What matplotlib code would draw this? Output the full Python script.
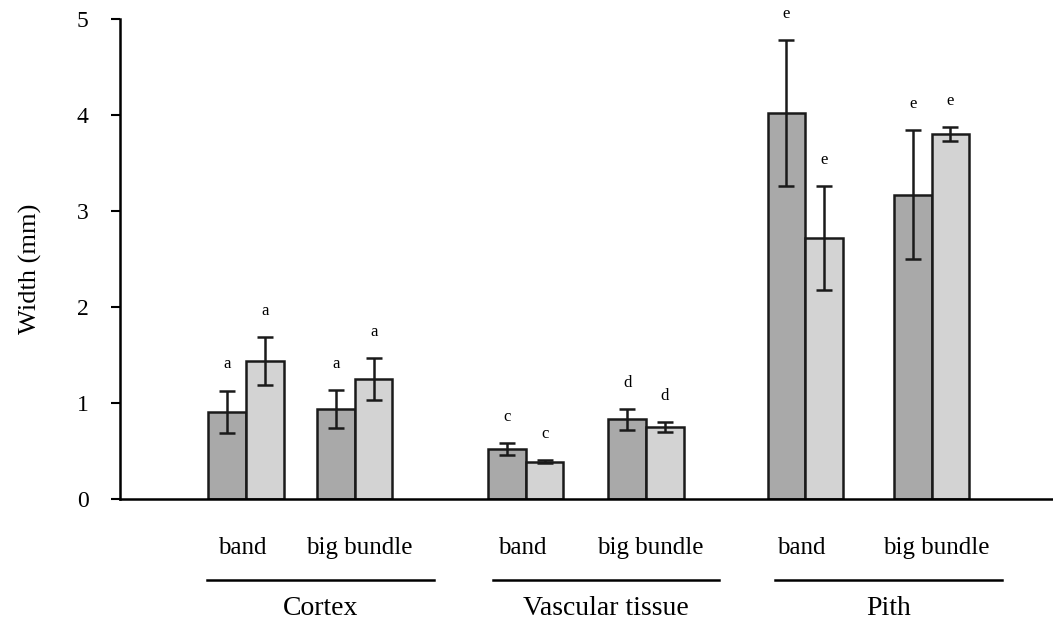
import numpy as np
import matplotlib.pyplot as plt
from matplotlib.lines import Line2D

# data
groups = ['Cortex', 'Vascular tissue', 'Pith']
subgroups = ['band', 'big bundle']
dark_vals = [0.91, 0.94, 0.52, 0.83, 4.02, 3.17]
dark_err = [0.22, 0.20, 0.06, 0.11, 0.76, 0.67]
light_vals = [1.44, 1.25, 0.39, 0.75, 2.72, 3.80]
light_err = [0.25, 0.22, 0.02, 0.05, 0.54, 0.07]
dark_letters = ['a', 'a', 'c', 'd', 'e', 'e']
light_letters = ['a', 'a', 'c', 'd', 'e', 'e']
yticks = [0, 1, 2, 3, 4, 5]

plt.rcParams['font.family'] = ['Liberation Serif', 'DejaVu Serif']

fig = plt.figure(figsize=(10.53, 6.22), dpi=100)
ax = fig.add_axes([120/1053, 1 - 499/622, 1 - 120/1053, 480/622])

# pair centres: two subgroups per group, wider gap between groups
gstep = 2.37
sstep = [0.92, 1.02, 1.07]
centers = []
for g in range(len(groups)):
    for s in range(len(subgroups)):
        centers.append(g * gstep + s * sstep[g])
centers = np.array(centers)
w = 0.32
edge = '#1a1a1a'

ax.bar(centers - w/2, dark_vals, w, color='#a9a9a9', edgecolor=edge, linewidth=1.8, zorder=2)
ax.bar(centers + w/2, light_vals, w, color='#d3d3d3', edgecolor=edge, linewidth=1.8, zorder=2)
ax.errorbar(centers - w/2, dark_vals, yerr=dark_err, fmt='none', ecolor=edge, elinewidth=1.8, capsize=6, capthick=1.8, zorder=3)
ax.errorbar(centers + w/2, light_vals, yerr=light_err, fmt='none', ecolor=edge, elinewidth=1.8, capsize=6, capthick=1.8, zorder=3)

for x, v, e, t in zip(centers - w/2, dark_vals, dark_err, dark_letters):
    ax.annotate(t, (x, v + e), xytext=(0, 13), textcoords='offset points', ha='center', va='bottom', fontsize=12)
for x, v, e, t in zip(centers + w/2, light_vals, light_err, light_letters):
    ax.annotate(t, (x, v + e), xytext=(0, 13), textcoords='offset points', ha='center', va='bottom', fontsize=12)

ax.set_xlim(-1.07, 6.84)
ax.set_ylim(0, 5)
ax.set_yticks(yticks)
ax.set_xticks([])
ax.tick_params(axis='y', direction='out', length=6.5, width=1.5, labelsize=17, pad=16)
for side in ['top', 'right']:
    ax.spines[side].set_visible(False)
ax.spines['left'].set_linewidth(1.8)
ax.spines['bottom'].set_linewidth(1.8)
ax.set_ylabel('Width (mm)', fontsize=19)
ax.yaxis.set_label_coords(-0.084, 0.48)

# category labels under the axis
trans = ax.get_xaxis_transform()
sub_offsets = [-0.03, 0.04]
for g, name in enumerate(groups):
    for s, sub in enumerate(subgroups):
        ax.text(centers[2*g + s] + sub_offsets[s], -0.102, sub, transform=trans, ha='center', va='center', fontsize=18)
    lc = (centers[2*g] + centers[2*g + 1]) / 2 + 0.17
    ax.add_line(Line2D([lc - 0.96, lc + 0.96], [-0.169, -0.169], transform=trans, color='black', linewidth=1.8, clip_on=False))
    ax.text(lc, -0.229, name, transform=trans, ha='center', va='center', fontsize=20)

fig.savefig('out.png', dpi=100)
